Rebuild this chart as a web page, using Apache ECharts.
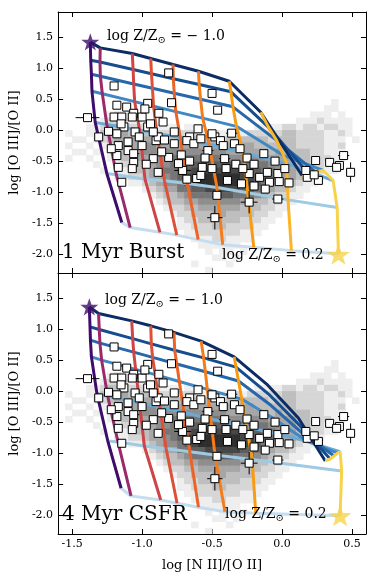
<!DOCTYPE html>
<html>
<head>
<meta charset="utf-8">
<title>log [O III]/[O II] vs log [N II]/[O II]</title>
<script src="https://cdn.jsdelivr.net/npm/echarts@6.0.0/dist/echarts.min.js"></script>
<style>
html, body { margin: 0; padding: 0; background: #fff; }
#chart { width: 374px; height: 581px; }
</style>
</head>
<body>
<div id="chart"></div>
<script>
// model grid, 1 Myr burst: one list per metallicity, points go from high to low ionization
var colsBurst = [
  [[-1.370, 1.415], [-1.367, 1.124], [-1.362, 0.898], [-1.358, 0.624], [-1.335, 0.124], [-1.252, -0.698], [-1.145, -1.488]],
  [[-1.299, 1.323], [-1.301, 1.095], [-1.298, 0.866], [-1.284, 0.584], [-1.252, 0.089], [-1.184, -0.718], [-1.085, -1.569]],
  [[-1.070, 1.232], [-1.064, 0.974], [-1.060, 0.742], [-1.053, 0.458], [-1.018, 0.002], [-0.979, -0.790], [-0.872, -1.645]],
  [[-0.938, 1.152], [-0.933, 0.906], [-0.926, 0.673], [-0.918, 0.382], [-0.894, -0.053], [-0.840, -0.815], [-0.752, -1.690]],
  [[-0.779, 1.055], [-0.777, 0.826], [-0.770, 0.592], [-0.759, 0.297], [-0.727, -0.118], [-0.677, -0.858], [-0.599, -1.763]],
  [[-0.597, 0.947], [-0.592, 0.732], [-0.582, 0.495], [-0.567, 0.192], [-0.521, -0.231], [-0.465, -0.924], [-0.424, -1.844]],
  [[-0.377, 0.785], [-0.365, 0.616], [-0.351, 0.374], [-0.326, 0.060], [-0.277, -0.368], [-0.245, -1.010], [-0.202, -1.887]],
  [[-0.152, 0.286], [-0.096, 0.044], [-0.039, -0.166], [0.011, -0.408], [0.032, -0.537], [0.043, -1.123], [0.067, -1.940]],
  [[0.143, -0.731], [0.188, -0.699], [0.238, -0.674], [0.294, -0.650], [0.365, -0.811], [0.394, -1.247], [0.403, -1.990]]
];

// model grid, 4 Myr CSFR
var colsCsfr = [
  [[-1.377, 1.355], [-1.372, 1.034], [-1.369, 0.820], [-1.362, 0.551], [-1.323, -0.037], [-1.245, -0.804], [-1.150, -1.564]],
  [[-1.311, 1.249], [-1.306, 0.990], [-1.301, 0.772], [-1.289, 0.498], [-1.246, -0.080], [-1.172, -0.820], [-1.079, -1.688]],
  [[-1.074, 1.130], [-1.067, 0.844], [-1.060, 0.627], [-1.046, 0.349], [-1.018, -0.193], [-0.984, -0.884], [-0.867, -1.752]],
  [[-0.938, 1.050], [-0.934, 0.760], [-0.925, 0.542], [-0.906, 0.264], [-0.872, -0.259], [-0.828, -0.928], [-0.750, -1.806]],
  [[-0.772, 0.944], [-0.767, 0.658], [-0.752, 0.436], [-0.734, 0.154], [-0.701, -0.346], [-0.659, -0.976], [-0.597, -1.870]],
  [[-0.578, 0.804], [-0.560, 0.534], [-0.548, 0.312], [-0.534, 0.027], [-0.509, -0.450], [-0.479, -1.029], [-0.408, -1.941]],
  [[-0.342, 0.551], [-0.329, 0.386], [-0.311, 0.161], [-0.288, -0.129], [-0.252, -0.579], [-0.213, -1.101], [-0.188, -1.966]],
  [[0.309, -1.125], [0.344, -1.093], [0.372, -1.045], [0.397, -0.997], [0.415, -0.976], [0.426, -1.286], [0.415, -2.005]]
];
var rowsCsfr = [
  [[-1.377, 1.355], [-1.311, 1.249], [-1.074, 1.130], [-0.938, 1.050], [-0.772, 0.944], [-0.578, 0.804], [-0.342, 0.551], [-0.110, 0.113], [0.117, -0.434], [0.309, -1.125]],
  [[-1.372, 1.034], [-1.306, 0.990], [-1.067, 0.844], [-0.934, 0.760], [-0.767, 0.658], [-0.560, 0.534], [-0.329, 0.386], [-0.096, -0.048], [0.131, -0.563], [0.344, -1.093]],
  [[-1.369, 0.820], [-1.301, 0.772], [-1.060, 0.627], [-0.925, 0.542], [-0.752, 0.436], [-0.548, 0.312], [-0.311, 0.161], [-0.082, -0.225], [0.145, -0.675], [0.372, -1.045]],
  [[-1.362, 0.551], [-1.289, 0.498], [-1.046, 0.349], [-0.906, 0.264], [-0.734, 0.154], [-0.534, 0.027], [-0.288, -0.129], [-0.067, -0.434], [0.167, -0.788], [0.397, -0.997]],
  [[-1.323, -0.037], [-1.246, -0.080], [-1.018, -0.193], [-0.872, -0.259], [-0.701, -0.346], [-0.509, -0.450], [-0.252, -0.579], [0.096, -0.756], [0.415, -0.976]],
  [[-1.245, -0.804], [-1.172, -0.820], [-0.984, -0.884], [-0.828, -0.928], [-0.659, -0.976], [-0.479, -1.029], [-0.213, -1.101], [0.426, -1.286]],
  [[-1.150, -1.564], [-1.079, -1.688], [-0.867, -1.752], [-0.750, -1.806], [-0.597, -1.870], [-0.408, -1.941], [-0.188, -1.966], [0.415, -2.005]]
];

var starsBurst = [[-1.370, 1.420], [0.403, -2.000]];
var starsCsfr = [[-1.377, 1.355], [0.415, -2.005]];

// observed galaxies: x, y, xerr, yerr
var obs = [
  [-0.81, 0.92, 0, 0], [-1.20, 0.71, 0, 0], [-0.50, 0.59, 0, 0], [-0.46, 0.32, 0, 0], [-1.39, 0.20, 0.085, 0],
  [-1.18, 0.40, 0, 0], [-1.11, 0.37, 0, 0], [-0.96, 0.43, 0, 0], [-0.79, 0.44, 0, 0], [-1.06, 0.27, 0, 0],
  [-1.20, 0.21, 0, 0], [-1.145, 0.21, 0, 0], [-1.07, 0.21, 0, 0], [-1.00, 0.21, 0, 0], [-0.98, 0.34, 0, 0],
  [-0.88, 0.27, 0, 0], [-1.13, 0.05, 0, 0], [-0.96, 0.05, 0, 0], [-1.05, -0.03, 0, 0], [-0.85, 0.13, 0, 0],
  [-0.77, -0.03, 0, 0], [-1.18, -0.06, 0, 0], [-1.10, -0.19, 0, 0], [-1.02, -0.11, 0, 0], [-0.90, -0.17, 0, 0],
  [-0.66, -0.11, 0, 0], [-1.31, -0.11, 0, 0], [-1.17, -0.25, 0, 0], [-1.10, -0.33, 0, 0], [-1.18, -0.41, 0, 0],
  [-1.06, -0.38, 0.04, 0], [-1.00, -0.25, 0, 0], [-0.885, -0.11, 0.04, 0], [-0.84, -0.16, 0, 0], [-0.77, -0.22, 0, 0],
  [-0.68, -0.17, 0, 0], [-0.63, -0.22, 0, 0], [-0.58, -0.14, 0, 0], [-0.48, -0.11, 0, 0], [-0.53, -0.33, 0.04, 0],
  [-0.44, -0.17, 0, 0], [-0.36, -0.05, 0.04, 0], [-0.34, -0.22, 0, 0], [-0.50, -0.06, 0, 0], [-0.41, -0.46, 0.04, 0],
  [-0.92, -0.46, 0, 0], [-1.06, -0.52, 0, 0], [-0.71, -0.65, 0.06, 0], [-0.57, -0.60, 0, 0], [-0.61, -0.78, 0, 0],
  [-1.07, -0.62, 0, 0], [-1.17, -0.60, 0, 0], [-1.145, -0.84, 0, 0], [-0.885, -0.68, 0, 0], [-0.81, -0.44, 0, 0],
  [-0.74, -0.54, 0, 0], [-0.68, -0.79, 0, 0], [-0.58, -0.73, 0, 0], [-0.465, -1.05, 0, 0], [-0.39, -0.81, 0, 0],
  [-0.29, -0.865, 0, 0], [-0.235, -0.70, 0, 0], [-0.16, -0.76, 0, 0], [-0.105, -0.68, 0, 0], [-0.13, -0.38, 0, 0],
  [-0.09, -0.84, 0, 0], [-0.03, -0.70, 0, 0], [-0.03, -1.11, 0.04, 0], [0.18, -0.76, 0, 0], [0.26, -0.81, 0, 0],
  [0.34, -0.52, 0, 0], [0.41, -0.57, 0, 0], [0.44, -0.41, 0.04, 0], [0.49, -0.68, 0.03, 0.16], [-0.235, -1.16, 0.06, 0.18],
  [-0.48, -1.41, 0.055, 0.19], [0.24, -0.49, 0, 0], [0.39, -0.60, 0, 0], [0.17, -0.65, 0, 0], [-0.60, 0.02, 0, 0],
  [-0.42, -0.25, 0, 0], [-0.30, -0.30, 0, 0], [-0.40, -0.62, 0, 0], [-0.20, -0.90, 0, 0], [-0.12, -0.95, 0, 0],
  [0.02, -0.62, 0, 0], [-1.24, -0.02, 0, 0], [-1.15, 0.10, 0, 0], [-0.94, 0.10, 0, 0], [-0.92, -0.03, 0, 0],
  [-1.22, -0.30, 0, 0], [-0.97, -0.55, 0, 0], [-0.86, -0.35, 0, 0], [-0.72, -0.40, 0, 0], [-0.66, -0.50, 0, 0],
  [-0.55, -0.45, 0, 0], [-0.50, -0.62, 0, 0], [-0.33, -0.55, 0, 0], [-0.28, -0.62, 0, 0], [-0.25, -0.45, 0, 0],
  [-0.20, -0.55, 0, 0], [-0.05, -0.50, 0, 0], [-0.02, -0.83, 0, 0], [0.05, -0.85, 0, 0], [0.23, -0.72, 0, 0]
];

// background density of local galaxies, grey level 0-9;
// rows go from y = 0.6 down to y = -2.3 in steps of 0.1, columns from x = -1.55 to 0.55 in steps of 0.05
var histRows = [
  '00 00 00 00 00 00 00 00 00 00 00 00 00 00 00 00 00 00 00 00 00',
  '00 00 00 00 00 00 00 00 00 00 00 00 00 00 00 00 00 00 00 10 00',
  '00 00 00 00 00 00 00 00 00 00 00 00 00 00 00 00 00 00 01 10 00',
  '00 00 00 12 10 00 00 00 00 00 00 00 00 00 00 00 00 01 11 01 00',
  '00 00 01 22 21 10 00 00 00 00 00 00 00 00 00 00 01 11 21 11 10',
  '00 01 12 33 32 22 21 11 01 10 00 00 00 01 11 12 21 22 12 21 10',
  '10 01 13 34 43 33 32 22 22 21 12 12 21 22 22 23 32 22 21 12 10',
  '01 10 12 34 44 44 43 33 33 33 33 23 33 33 32 33 32 22 21 11 01',
  '10 01 01 23 44 45 54 44 44 44 44 44 34 43 33 33 32 22 21 12 00',
  '01 10 10 13 34 45 55 55 55 55 55 54 44 44 43 43 33 32 21 11 00',
  '10 01 00 12 33 44 55 56 66 66 66 65 55 55 54 44 43 32 22 11 00',
  '00 00 10 01 23 34 45 56 67 77 77 77 76 66 65 54 43 32 21 10 00',
  '00 00 01 01 12 33 45 66 77 88 88 88 87 77 66 54 43 32 21 10 00',
  '00 00 00 01 12 23 44 56 78 89 99 99 98 87 76 54 43 21 10 00 00',
  '00 00 00 00 01 12 34 55 67 89 99 99 98 87 65 43 32 11 00 00 00',
  '00 00 00 00 00 01 23 44 66 77 88 88 87 76 54 33 21 10 00 00 00',
  '00 00 00 00 00 00 12 33 45 66 67 77 66 65 43 22 11 00 00 00 00',
  '00 00 00 00 00 00 01 23 34 45 55 55 54 43 32 21 10 00 00 00 00',
  '00 00 00 00 00 00 00 12 23 34 44 44 43 33 22 11 00 00 00 00 00',
  '00 00 00 00 00 00 00 01 22 33 34 43 33 32 21 10 00 00 00 00 00',
  '00 00 00 00 00 00 00 00 12 23 33 33 32 22 11 00 00 00 00 00 00',
  '00 00 00 00 00 00 00 00 11 22 23 32 22 21 10 00 00 00 00 00 00',
  '00 00 00 00 00 00 00 00 01 12 22 22 21 11 00 00 00 00 00 00 00',
  '00 00 00 00 00 00 00 00 00 11 12 21 11 10 00 00 00 00 00 00 00',
  '00 00 00 00 00 00 00 00 00 01 11 11 10 00 00 00 00 00 00 00 00',
  '00 00 00 00 00 00 00 00 00 00 10 11 01 00 00 00 00 00 00 00 00',
  '00 00 00 00 00 00 00 00 00 00 01 10 10 00 00 00 00 00 00 00 00',
  '00 00 00 00 00 00 00 00 00 10 00 01 00 00 00 00 00 00 00 00 00',
  '00 00 00 00 00 00 00 00 00 00 10 00 00 00 00 00 00 00 00 00 00'
];

var colColorsBurst = ['#3d0c6c', '#9b2a6a', '#cf4446', '#dc5238', '#ea6428', '#f47c1a', '#f99b12', '#fbb527', '#f6d34a'];
var colColorsCsfr = ['#3d0c6c', '#9b2a6a', '#cf4446', '#dc5238', '#ea6428', '#f47c1a', '#f99b12', '#f6d34a'];
var rowColors = ['#0b2d64', '#154d8e', '#2767ab', '#3f88c4', '#6aaad6', '#9ecae3', '#c6dcef'];

var binW = 0.05, binH = 0.1, histX0 = -1.55, histYTop = 0.6;
var serif = '"DejaVu Serif", serif';
var starPath = 'path://M0,-10 L2.35,-3.24 L9.51,-3.09 L3.8,1.24 L5.88,8.09 L0,4 L-5.88,8.09 L-3.8,1.24 L-9.51,-3.09 L-2.35,-3.24 Z';

function transpose(cols) {
  var rows = [];
  for (var r = 0; r < cols[0].length; r++) {
    rows.push(cols.map(function (c) { return c[r]; }));
  }
  return rows;
}

var histData = [];
histRows.forEach(function (line, j) {
  var s = line.replace(/ /g, '');
  for (var i = 0; i < s.length; i++) {
    var lv = +s[i];
    if (lv > 0) histData.push([histX0 + i * binW, histYTop - (j + 1) * binH, lv]);
  }
});

function grey(lv) {
  var v = Math.round(238 - (lv - 1) * 24);
  return 'rgb(' + v + ',' + v + ',' + v + ')';
}

var chart = echarts.init(document.getElementById('chart'));

function xAx(grid, pos, labels) {
  return {
    type: 'value', gridIndex: grid, position: pos, min: -1.6, max: 0.6,
    splitNumber: 4, minInterval: 0.5, maxInterval: 0.5,
    axisLine: { show: true, onZero: false, lineStyle: { color: '#000', width: 1 } },
    axisTick: { show: true, inside: true, length: 5, lineStyle: { color: '#000' } },
    axisLabel: {
      show: labels, margin: 5, color: '#000', fontFamily: serif, fontSize: 11,
      showMinLabel: false, showMaxLabel: false,
      formatter: function (v) { return v.toFixed(1); }
    },
    splitLine: { show: false },
    name: labels ? 'log [N II]/[O II]' : '', nameLocation: 'middle', nameGap: 25,
    nameTextStyle: { color: '#000', fontFamily: serif, fontSize: 13 }
  };
}
function yAx(grid, pos, labels) {
  return {
    type: 'value', gridIndex: grid, position: pos, min: -2.3, max: 1.9,
    splitNumber: 8, minInterval: 0.5, maxInterval: 0.5,
    axisLine: { show: true, onZero: false, lineStyle: { color: '#000', width: 1 } },
    axisTick: { show: true, inside: true, length: 5, lineStyle: { color: '#000' } },
    axisLabel: {
      show: labels, margin: 5, color: '#000', fontFamily: serif, fontSize: 11,
      showMinLabel: false, showMaxLabel: false,
      formatter: function (v) { return v.toFixed(1); }
    },
    splitLine: { show: false },
    name: labels ? 'log [O III]/[O II]' : '', nameLocation: 'middle', nameGap: 34,
    nameTextStyle: { color: '#000', fontFamily: serif, fontSize: 13 }
  };
}

var series = [];
function addPanel(ax, cols, rows, colColors, stars) {
  series.push({
    type: 'custom', xAxisIndex: ax, yAxisIndex: ax, data: histData, clip: true, silent: true, z: 1,
    renderItem: function (params, api) {
      var tl = api.coord([api.value(0), api.value(1) + binH]);
      var br = api.coord([api.value(0) + binW, api.value(1)]);
      return {
        type: 'rect',
        shape: { x: tl[0], y: tl[1], width: br[0] - tl[0] + 0.5, height: br[1] - tl[1] + 0.5 },
        style: { fill: grey(api.value(2)) }
      };
    }
  });
  for (var r = rows.length - 1; r >= 0; r--) {
    series.push({
      type: 'line', xAxisIndex: ax, yAxisIndex: ax, data: rows[r], symbol: 'none', silent: true, z: 2,
      lineStyle: { color: rowColors[r], width: 3 }
    });
  }
  cols.forEach(function (c, i) {
    series.push({
      type: 'line', xAxisIndex: ax, yAxisIndex: ax, data: c, symbol: 'none', silent: true, z: 3,
      lineStyle: { color: colColors[i], width: 3 }
    });
  });
  series.push({
    type: 'custom', xAxisIndex: ax, yAxisIndex: ax, silent: true, z: 4,
    data: obs.filter(function (o) { return o[2] > 0 || o[3] > 0; }),
    renderItem: function (params, api) {
      var x = api.value(0), y = api.value(1), xe = api.value(2), ye = api.value(3);
      var kids = [];
      if (xe > 0) {
        var a = api.coord([x - xe, y]), b = api.coord([x + xe, y]);
        kids.push({ type: 'line', shape: { x1: a[0], y1: a[1], x2: b[0], y2: b[1] }, style: { stroke: '#000', lineWidth: 1 } });
      }
      if (ye > 0) {
        var c = api.coord([x, y - ye]), d = api.coord([x, y + ye]);
        kids.push({ type: 'line', shape: { x1: c[0], y1: c[1], x2: d[0], y2: d[1] }, style: { stroke: '#000', lineWidth: 1 } });
      }
      return { type: 'group', children: kids };
    }
  });
  series.push({
    type: 'scatter', xAxisIndex: ax, yAxisIndex: ax, silent: true, z: 5,
    data: obs.map(function (o) { return [o[0], o[1]]; }),
    symbol: 'rect', symbolSize: 8,
    itemStyle: { color: '#fff', borderColor: '#000', borderWidth: 1, opacity: 1 }
  });
  series.push({
    type: 'scatter', xAxisIndex: ax, yAxisIndex: ax, silent: true, z: 6,
    data: [
      { value: stars[0], symbolSize: [18, 18], itemStyle: { color: colColors[0] } },
      { value: stars[1], symbolSize: [23, 22], itemStyle: { color: colColors[colColors.length - 1] } }
    ],
    symbol: starPath, symbolKeepAspect: true
  });
}
addPanel(0, colsBurst, transpose(colsBurst), colColorsBurst, starsBurst);
addPanel(2, colsCsfr, rowsCsfr, colColorsCsfr, starsCsfr);

var zText = function (val, left, top) {
  return {
    type: 'text', left: left, top: top, z: 100,
    style: {
      text: '{a|log Z/Z}{b|⊙}{a| = ' + val + '}',
      rich: {
        a: { fontFamily: serif, fontSize: 14, fill: '#000', lineHeight: 18 },
        b: { fontFamily: serif, fontSize: 10, fill: '#000', lineHeight: 12, verticalAlign: 'bottom' }
      }
    }
  };
};

chart.setOption({
  animation: false,
  backgroundColor: '#fff',
  grid: [
    { left: 56, top: 12, width: 310, height: 261 },
    { left: 56, top: 273, width: 310, height: 261 }
  ],
  xAxis: [xAx(0, 'bottom', false), xAx(0, 'top', false), xAx(1, 'bottom', true), xAx(1, 'top', false)],
  yAxis: [yAx(0, 'left', true), yAx(0, 'right', false), yAx(1, 'left', true), yAx(1, 'right', false)],
  series: series,
  graphic: [
    zText('− 1.0', 107, 29),
    zText('0.2', 222, 248),
    zText('− 1.0', 105, 293),
    zText('0.2', 225, 507),
    { type: 'text', left: 62, top: 243, z: 100, style: { text: '1 Myr Burst', fontFamily: serif, fontSize: 20, fill: '#000' } },
    { type: 'text', left: 62, top: 505, z: 100, style: { text: '4 Myr CSFR', fontFamily: serif, fontSize: 20, fill: '#000' } }
  ]
});
</script>
</body>
</html>
